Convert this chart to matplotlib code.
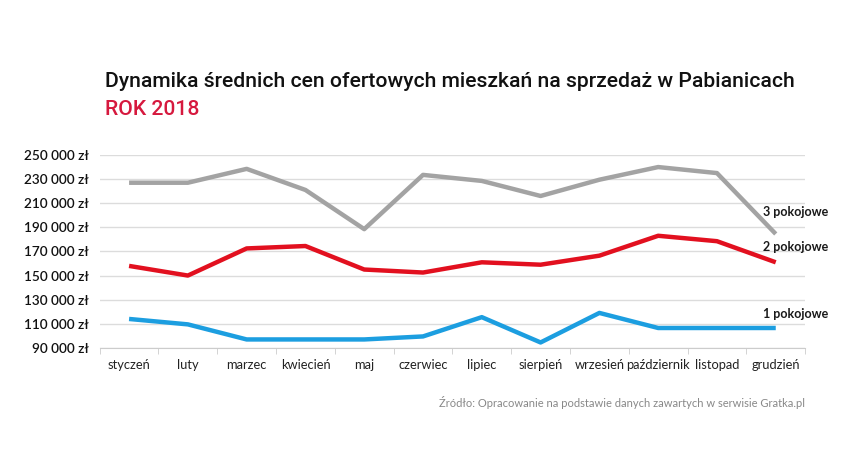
import matplotlib

matplotlib.use("Agg")
import matplotlib.pyplot as plt
from matplotlib.ticker import FuncFormatter, FixedLocator


MONTHS = ["styczeń", "luty", "marzec", "kwiecień", "maj", "czerwiec",
          "lipiec", "sierpień", "wrzesień", "październik", "listopad", "grudzień"]

ROOMS_3 = [227000, 227000, 238500, 221000, 188500, 233500,
           228500, 216000, 229500, 240000, 235000, 184500]
ROOMS_2 = [158000, 150000, 172500, 174500, 155000, 152500,
           161000, 159000, 166500, 183000, 178500, 161000]
ROOMS_1 = [114000, 109500, 97000, 97000, 97000, 99500,
           115500, 94500, 119000, 106500, 106500, 106500]

SERIES = [
    ("3 pokojowe", ROOMS_3, "#a3a3a3"),
    ("2 pokojowe", ROOMS_2, "#e2101f"),
    ("1 pokojowe", ROOMS_1, "#1c9ee0"),
]
LABEL_Y = [203000, 174000, 118000]

Y_TICKS = list(range(90000, 250001, 20000))

plt.rcParams["font.family"] = ["Lato", "DejaVu Sans"]

fig = plt.figure(figsize=(8.52, 4.62), dpi=100)
ax = fig.add_axes([0.117, 0.247, 0.828, 0.4175])

x = list(range(len(MONTHS)))
for (name, values, color), ly in zip(SERIES, LABEL_Y):
    ax.plot(x, values, color=color, linewidth=3.2, solid_capstyle="butt", zorder=3)
    ax.text(11.89, ly, name, ha="right", va="center", fontsize=9,
            fontweight="bold", color="#1a1a1a", clip_on=False)

ax.set_xlim(-0.5, 11.5)
ax.set_ylim(90000, 250000)
ax.yaxis.set_major_locator(FixedLocator(Y_TICKS))
ax.yaxis.set_major_formatter(FuncFormatter(
    lambda v, pos: f"{int(v):,}".replace(",", " ") + " zł"))
ax.grid(axis="y", color="#dcdcdc", linewidth=1)
ax.set_axisbelow(True)

ax.set_xticks(x)
ax.set_xticklabels(MONTHS, fontsize=9.3, color="#222222")
ax.set_xticks([i - 0.5 for i in range(len(MONTHS) + 1)], minor=True)
ax.tick_params(axis="x", which="major", length=0, pad=8)
ax.tick_params(axis="x", which="minor", length=4, color="#cccccc", direction="out")
ax.tick_params(axis="y", length=0, labelsize=9.8, pad=8, labelcolor="#111111")
for lbl in ax.get_yticklabels():
    lbl.set_fontweight("semibold")

for side in ["top", "right", "left"]:
    ax.spines[side].set_visible(False)
ax.spines["bottom"].set_color("#cccccc")

fig.text(0.123, 0.812, "Dynamika średnich cen ofertowych mieszkań na sprzedaż w Pabianicach",
         fontsize=15.2, fontweight="medium", color="#111111",
         family=["Roboto", "DejaVu Sans"])
fig.text(0.123, 0.752, "ROK 2018", fontsize=15.2, fontweight="medium", color="#d6193e",
         family=["Roboto", "DejaVu Sans"])
fig.text(0.945, 0.118, "Źródło: Opracowanie na podstawie danych zawartych w serwisie Gratka.pl",
         ha="right", fontsize=8, color="#888888")

fig.savefig("out.png", dpi=100, facecolor="white")
